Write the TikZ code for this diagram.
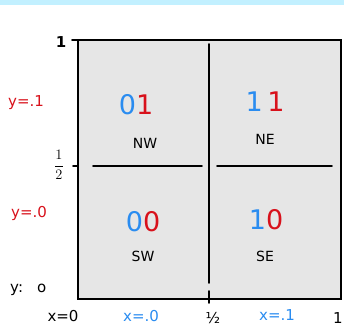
\documentclass[tikz,border=0pt]{standalone}
\usepackage{fontspec}
\setmainfont{DejaVu Sans}
\definecolor{bandblue}{HTML}{C2F0FF}
\definecolor{cellgray}{HTML}{E6E6E6}
\definecolor{hblue}{HTML}{2A8CF0}
\definecolor{hred}{HTML}{D8111B}
\tikzset{
  edge/.style={line width=1.6pt, line cap=round},
  digits/.style={font=\fontsize{27}{27}\selectfont, inner sep=0pt},
  quad/.style={font=\fontsize{14}{14}\selectfont, inner sep=0pt},
  axlab/.style={font=\fontsize{15}{15}\selectfont, inner sep=0pt},
}
\begin{document}
\begin{tikzpicture}[x=1pt,y=-1pt]
\useasboundingbox (0,0) rectangle (344,327);
\fill[bandblue] (0,0) rectangle (344,5);
% square
\draw[edge, fill=cellgray] (78,40) rectangle (341,299);
% inner lines
\coordinate (vt) at (209,44);
\coordinate (vb) at (209,283);
\draw[edge] (vt) -- (vb);
\draw[edge] (209,291) -- (209,303);
\draw[edge] (93,166) -- (202,166);
\draw[edge] (217,166) -- (332,166);
% ticks
\draw[edge] (72,40) -- (78,40);
\draw[edge] (73,166) -- (78,166);
% axis labels
\node[axlab, font=\bfseries\fontsize{15}{15}\selectfont] (one) at (61,42) {1};
\node[inner sep=0pt, font=\fontsize{14}{14}\selectfont] (half) at (59,165) {$\displaystyle\frac{1}{2}$};
\node[axlab, text=hred, anchor=west] (y1) at (8,103) {y=.1};
\node[axlab, text=hred, anchor=west] (y0) at (11,213) {y=.0};
\node[axlab, anchor=west] (yz) at (10,290) {y:\hspace{14pt}o};
\node[axlab] (xz) at (63,316) {x=0};
\node[axlab, text=hblue] (xa) at (141,316) {x=.0};
\node[axlab] (xh) at (213,318) {½};
\node[axlab] (xo) at (338,318) {1};
\node[axlab, text=hblue] (xb) at (277,315) {x=.1};
% cells
\node[digits] (c01) at (136,105) {\textcolor{hblue}{0}\textcolor{hred}{1}};
\node[quad] (nw) at (145,143) {NW};
\node[digits] (c11) at (265,102) {\textcolor{hblue}{1}\,\textcolor{hred}{1}};
\node[quad] (ne) at (265,139) {NE};
\node[digits] (c00) at (143,222) {\textcolor{hblue}{0}\textcolor{hred}{0}};
\node[quad] (sw) at (143,256) {SW};
\node[digits] (c10) at (266,220) {\textcolor{hblue}{1}\textcolor{hred}{0}};
\node[quad] (se) at (265,256) {SE};
\end{tikzpicture}
\end{document}
